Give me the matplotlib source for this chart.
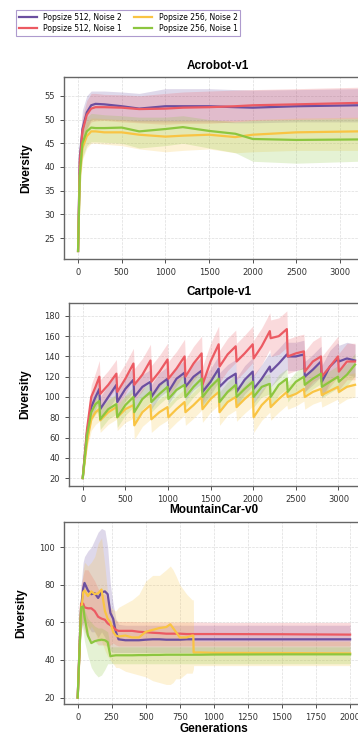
import numpy as np
import matplotlib
matplotlib.use("Agg")
import matplotlib.pyplot as plt

# colours of the four runs
c_p512n2 = "#6b4fa0"
c_p512n1 = "#ec5a62"
c_p256n2 = "#f9c443"
c_p256n1 = "#8cc63f"
series_names = ["Popsize 512, Noise 2", "Popsize 512, Noise 1",
                "Popsize 256, Noise 2", "Popsize 256, Noise 1"]
series_colors = [c_p512n2, c_p512n1, c_p256n2, c_p256n1]

# ---------------- Acrobot-v1 ----------------
acro_gen = [0, 20, 50, 100, 150, 200, 300, 500, 700, 1000, 1200, 1500, 1800, 2000, 2500, 3200]
acro_mean = [
    [22.3, 42, 48, 51.5, 53, 53.3, 53.2, 52.8, 52.3, 52.8, 52.8, 52.8, 52.6, 52.5, 52.8, 53.0],
    [22.3, 41, 47.5, 51, 52.3, 52.6, 52.6, 52.5, 52.2, 52.3, 52.5, 52.6, 52.8, 53.0, 53.2, 53.5],
    [22.3, 38, 44, 46.5, 47.5, 47.5, 47.3, 47.3, 46.8, 46.4, 46.6, 46.8, 46.3, 46.8, 47.3, 47.5],
    [22.3, 38.5, 45, 47.5, 48.3, 48.2, 48.2, 48.3, 47.5, 48.0, 48.4, 47.6, 47.0, 45.9, 45.7, 45.8],
]
acro_upper = [
    [22.3, 45, 52, 55, 56, 56, 56, 55.8, 55.5, 56.5, 56.5, 56.5, 56.3, 56.2, 56.3, 56.5],
    [22.3, 44, 50.5, 54, 55.5, 55.5, 55.3, 55.2, 55.0, 55.5, 55.8, 56.0, 56.2, 56.3, 56.5, 56.8],
    [22.3, 41, 47, 49.5, 50.3, 50.3, 50.2, 50.0, 49.8, 49.8, 49.8, 49.8, 49.8, 50.0, 50.3, 50.5],
    [22.3, 42, 48.5, 50.5, 51.3, 51.2, 51.0, 50.8, 50.5, 50.5, 50.8, 50.0, 49.5, 49.8, 50.0, 50.2],
]
acro_lower = [
    [22.3, 39, 44, 48, 50, 50, 50, 49.8, 49.5, 49.5, 49.5, 49.5, 49.3, 49.3, 49.5, 49.5],
    [22.3, 38, 44.5, 48, 49.5, 49.7, 49.8, 49.5, 49.3, 49.0, 49.2, 49.2, 49.5, 49.8, 50.0, 50.2],
    [22.3, 35, 41.5, 44, 45, 45, 44.8, 44.5, 43.8, 43.2, 43.5, 43.8, 43.0, 43.2, 43.5, 43.5],
    [22.3, 35, 42, 44.5, 45.3, 45.3, 45.2, 45.0, 44.0, 44.5, 45.0, 44.0, 43.0, 41.2, 40.8, 41.2],
]

# ---------------- Cartpole-v1 ----------------
cart_gen = [0, 50, 100, 150, 195,
            205, 300, 395, 405, 500, 595, 605, 700, 795, 805, 900, 995,
            1005, 1100, 1195, 1205, 1300, 1395, 1405, 1500, 1595, 1605, 1700, 1795,
            1805, 1900, 1995, 2005, 2100, 2195, 2205, 2300, 2395, 2405, 2500, 2595,
            2605, 2700, 2795, 2805, 2900, 2995, 3005, 3100, 3195]
cart_mean = [
    [20, 65, 90, 100, 108,
     88, 100, 112, 95, 108, 117, 100, 110, 115, 100, 112, 118,
     105, 118, 124, 110, 120, 126, 105, 115, 128, 110, 118, 123,
     105, 117, 125, 108, 118, 130, 125, 133, 142, 140, 140, 142,
     120, 127, 135, 115, 130, 138, 135, 138, 136],
    [20, 68, 100, 110, 120,
     103, 112, 123, 105, 118, 133, 112, 122, 136, 115, 125, 137,
     118, 128, 140, 120, 133, 143, 112, 135, 152, 130, 142, 150,
     135, 143, 152, 138, 150, 165, 158, 160, 167, 140, 143, 145,
     125, 135, 140, 120, 130, 140, 125, 135, 135],
    [20, 55, 78, 85, 88,
     77, 85, 90, 80, 88, 92, 72, 85, 92, 78, 85, 90,
     80, 88, 95, 85, 92, 100, 88, 98, 105, 85, 95, 100,
     90, 98, 105, 80, 92, 100, 90, 98, 105, 100, 103, 108,
     100, 105, 108, 102, 106, 110, 105, 110, 112],
    [20, 62, 85, 93, 96,
     78, 88, 93, 80, 92, 100, 85, 98, 105, 95, 103, 110,
     98, 107, 112, 100, 110, 118, 100, 110, 118, 95, 105, 112,
     100, 108, 115, 100, 110, 113, 100, 112, 118, 105, 115, 120,
     112, 118, 123, 110, 115, 120, 115, 122, 132],
]
# spread: first five points, then one value per 200-generation block
cart_spread = [
    [0, 5, 10, 12, 12, 12, 12, 12, 12, 12, 13, 13, 14, 14, 14, 15, 14, 15, 16, 16],
    [0, 6, 12, 14, 16, 14, 15, 16, 16, 17, 17, 18, 16, 18, 18, 18, 17, 20, 20, 18],
    [0, 6, 11, 12, 12, 12, 13, 14, 13, 13, 13, 13, 13, 14, 15, 13, 12, 12, 12, 12],
    [0, 5, 9, 10, 10, 10, 10, 10, 10, 10, 10, 10, 10, 10, 10, 10, 10, 10, 11, 11],
]

# ---------------- MountainCar-v0 ----------------
mc_gen = [0, 25, 40, 50, 75, 100, 125, 150, 175, 200, 220, 240, 260, 280, 300, 350, 400,
          450, 500, 550, 600, 650, 680, 700, 720, 750, 800, 840, 849, 851, 900, 1000, 1500, 2000]
mc_mean = [
    [20, 68, 78, 81, 77, 75, 75.5, 73, 76, 76.5, 75, 65, 62, 55, 51, 50.5, 50.5,
     50.5, 50.8, 51, 51, 50.8, 50.8, 50.8, 50.8, 50.8, 51, 51, 51, 51, 51, 51, 51, 51],
    [20, 70, 70, 68, 67.5, 67.5, 66, 63, 62, 61.4, 59.5, 58.5, 57.5, 56, 55.5, 55.5, 55.5,
     55, 54.8, 54.5, 54.3, 54, 54, 54, 54, 54, 53.8, 53.8, 53.8, 53.8, 53.8, 53.8, 53.7, 53.5],
    [20, 65, 76, 77, 74, 76.5, 75, 75.5, 77.5, 66, 62, 60, 55, 53, 52.5, 53, 52,
     52, 55, 56, 57, 57.5, 59, 57, 55, 52, 52, 53, 53, 44, 44, 43.8, 43.7, 43.5],
    [20, 68, 68.5, 63, 53, 49, 50, 50.5, 50.8, 50.5, 49.5, 42, 42.3, 42.5, 42.5, 42.5, 42.5,
     42.6, 42.6, 42.7, 42.7, 42.8, 42.8, 42.8, 42.8, 42.8, 42.8, 42.8, 42.8, 42.8, 42.8, 42.9, 43, 43],
]
mc_upper = [
    [20, 80, 92, 95, 98, 100, 104, 108, 110, 109, 100, 80, 70, 62, 59, 58.5, 58.5,
     58.5, 58.5, 58.5, 58.5, 58.5, 58.5, 58.5, 58.5, 58.5, 58.5, 58.5, 58.5, 58.5, 58.5, 58.5, 58.5, 58.5],
    [20, 80, 85, 88, 88, 85, 82, 78, 75, 75, 72, 68, 63, 61, 60.5, 60.5, 60.5,
     60.3, 60.3, 60.3, 60.2, 60.2, 60.2, 60.2, 60.2, 60.2, 60.2, 60.2, 60.2, 60.2, 60.2, 60, 60, 60],
    [20, 72, 88, 92, 90, 92, 95, 102, 105, 90, 75, 68, 67, 66, 68, 70, 72,
     75, 82, 85, 85, 88, 90, 88, 85, 80, 75, 72, 72, 50, 50, 50, 50, 50],
    [20, 68, 70, 67, 62, 60, 58, 57, 57, 56, 55, 47, 47, 47, 47, 47, 47,
     47, 47, 47, 47, 47, 47, 47, 47, 47, 47, 47, 47, 47, 47, 47, 47, 47],
]
mc_lower = [
    [20, 55, 60, 62, 58, 55, 55, 52, 55, 52, 48, 45, 44, 44, 44, 44, 44,
     44, 44, 44, 44, 44, 44, 44, 44, 44, 44, 44, 44, 44, 44, 44, 44, 44],
    [20, 60, 58, 55, 52, 50, 50, 48, 48, 48, 47, 48, 49, 48, 47.5, 47.5, 47.5,
     47.5, 47.5, 47.5, 47.5, 47.5, 47.5, 47.5, 47.5, 47.5, 47.5, 47.5, 47.5, 47.5, 47.5, 47.5, 47.5, 47.5],
    [20, 58, 62, 60, 55, 58, 55, 50, 50, 45, 42, 40, 38, 36, 36, 34, 33,
     32, 31, 29, 28, 27, 27, 28, 30, 30, 33, 33, 35, 37, 37, 37, 37, 37],
    [20, 60, 55, 50, 42, 36, 33, 31, 32, 35, 38, 38, 38, 38, 38, 38, 38,
     38, 38, 38, 38, 38, 38, 38, 38, 38, 38, 38, 38, 38, 38, 38, 38, 38],
]


def style_axis(ax):
    ax.grid(True, color="#dddddd", linestyle="--", linewidth=0.5)
    ax.set_axisbelow(True)
    for sp in ax.spines.values():
        sp.set_color("#666666")
        sp.set_linewidth(1.0)
    ax.tick_params(labelsize=6, colors="#333333", length=3, width=0.6)
    ax.set_ylabel("Diversity", fontsize=8.5, fontweight="bold",
                  family="Liberation Sans", labelpad=9)


def draw_panel(ax, gen, means, uppers, lowers, title):
    for i in range(4):
        ax.fill_between(gen, lowers[i], uppers[i], color=series_colors[i],
                        alpha=0.22, linewidth=0)
    for i in range(4):
        ax.plot(gen, means[i], color=series_colors[i], lw=1.6,
                label=series_names[i])
    ax.set_title(title, fontsize=8.5, fontweight="bold",
                 family="Liberation Sans", pad=6)
    style_axis(ax)


fig = plt.figure(figsize=(3.58, 7.36), dpi=100)

ax1 = fig.add_axes([0.179, 0.648, 0.859, 0.247])
draw_panel(ax1, acro_gen, acro_mean, acro_upper, acro_lower, "Acrobot-v1")
ax1.set_xlim(-160, 3360)
ax1.set_ylim(20.6, 58.9)
ax1.set_xticks([0, 500, 1000, 1500, 2000, 2500, 3000])
ax1.set_yticks([25, 30, 35, 40, 45, 50, 55])

ax2 = fig.add_axes([0.193, 0.340, 0.838, 0.248])
cart_upper, cart_lower = [], []
for i in range(4):
    sd = np.concatenate([cart_spread[i][:5], np.repeat(cart_spread[i][5:], 3)])
    cart_upper.append(np.array(cart_mean[i]) + sd)
    cart_lower.append(np.array(cart_mean[i]) - sd)
draw_panel(ax2, cart_gen, cart_mean, cart_upper, cart_lower, "Cartpole-v1")
ax2.set_xlim(-160, 3360)
ax2.set_ylim(12.4, 192.5)
ax2.set_xticks([0, 500, 1000, 1500, 2000, 2500, 3000])
ax2.set_yticks([20, 40, 60, 80, 100, 120, 140, 160, 180])

ax3 = fig.add_axes([0.179, 0.0435, 0.837, 0.2475])
draw_panel(ax3, mc_gen, mc_mean, mc_upper, mc_lower, "MountainCar-v0")
ax3.set_xlim(-100, 2100)
ax3.set_ylim(16.6, 113.5)
ax3.set_xticks([0, 250, 500, 750, 1000, 1250, 1500, 1750, 2000])
ax3.set_yticks([20, 40, 60, 80, 100])
ax3.set_xlabel("Generations", fontsize=8.5, fontweight="bold",
               family="Liberation Sans", labelpad=1)

handles, labels = ax1.get_legend_handles_labels()
leg = fig.legend(handles, labels, loc="upper left", ncol=2,
                 bbox_to_anchor=(0.033, 0.992), fontsize=5.5,
                 frameon=True, fancybox=False, handlelength=2.4,
                 columnspacing=1.6, borderpad=0.4, labelspacing=0.3)
leg.get_frame().set_edgecolor("#9a82c2")
leg.get_frame().set_linewidth(0.8)

fig.savefig("out.png", dpi=100)
